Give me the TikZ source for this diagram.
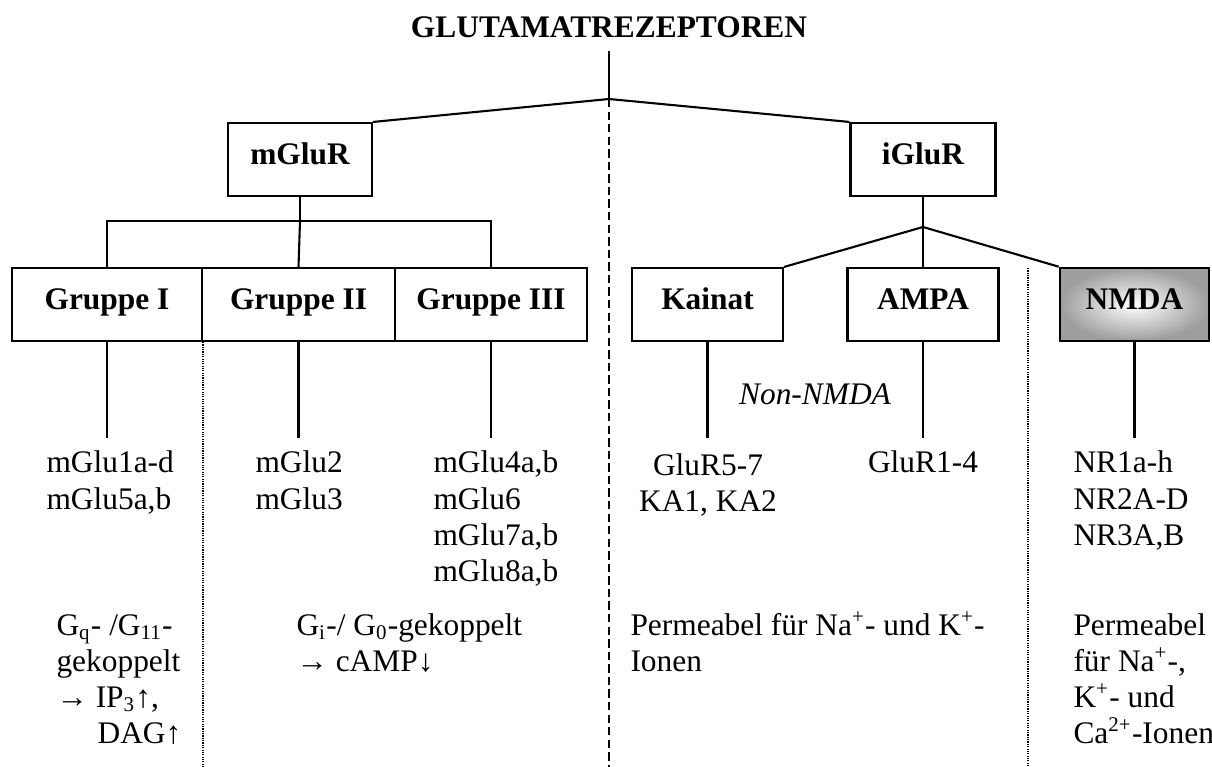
\documentclass[tikz,border=0pt]{standalone}
\usepackage{fontspec}
\setmainfont{Liberation Serif}
\def\pxu{0.3821pt}
\newcommand\rowsL[1]{\begin{tabular}[t]{@{}l@{}}#1\end{tabular}}
\newcommand\rowsC[1]{\begin{tabular}[t]{@{}c@{}}#1\end{tabular}}
\begin{document}
\begin{tikzpicture}[x=0.3821pt,y=-0.3821pt,
  every node/.style={inner sep=0pt},
  txt/.style={font=\fontsize{12pt}{13.8pt}\selectfont},
  box/.style={draw, line width=0.8pt, text height=7.8pt, text depth=3.6pt,
    minimum height=73*\pxu, font=\fontsize{12pt}{13.8pt}\selectfont\bfseries},
  shaded box/.style={box, line width=1pt, inner color=white, outer color=black!38},
  conn/.style={line width=0.8pt},
  sepdash/.style={line width=0.8pt, dash pattern=on 3.2pt off 1.6pt},
  sepdot/.style={line width=0.45pt, dash pattern=on 0.45pt off 0.45pt},
  lbl/.style={txt, anchor=base west},
]
\useasboundingbox (0,0) rectangle (1212,767);
\coordinate (bottom) at (0,767);
\coordinate (lowy) at (0,438);

% title
\node[txt, font=\fontsize{12pt}{13.8pt}\selectfont\bfseries, anchor=base] (title) at (609,38) {GLUTAMATREZEPTOREN};
\coordinate (J) at (609,99);

% level 1
\node[box, minimum width=144*\pxu] (mglur) at (300,159.5) {mGluR};
\node[box, minimum width=145*\pxu] (iglur) at (923,159.5) {iGluR};

% level 2 (mGluR)
\node[box, minimum width=190*\pxu] (g1) at (107,304.5) {Gruppe I};
\node[box, minimum width=193*\pxu] (g2) at (298.5,304.5) {Gruppe II};
\node[box, minimum width=192*\pxu] (g3) at (491,304.5) {Gruppe III};

% level 2 (iGluR)
\node[box, minimum width=151*\pxu] (kainat) at (707.5,304.5) {Kainat};
\node[box, minimum width=151*\pxu] (ampa) at (923,304.5) {AMPA};
\node[shaded box, minimum width=149*\pxu] (nmda) at (1134.5,304.5) {NMDA};

% top connectors
\draw[conn] ([yshift=-12*\pxu]title.south) -- (J);
\draw[conn] (mglur.north east) -- (J) -- (iglur.north west);
\draw[sepdash] (J) -- (J |- bottom);

% mGluR tree
\coordinate (mbar) at (300,221);
\draw[conn] (mglur.south) -- (mbar);
\draw[conn] (g1.north) |- (mbar) -| (g3.north);
\draw[conn] (mbar) -- (g2.north);

% iGluR tree
\coordinate (ij) at (923,227);
\draw[conn] (iglur.south) -- (ampa.north);
\draw[conn] (kainat.north east) -- (ij) -- (nmda.north west);

% lower stubs
\foreach \n in {g1,g2,g3,kainat,ampa,nmda}
  \draw[conn] (\n.south) -- (\n.south |- lowy);

% dotted separators
\draw[sepdot] (g1.south east) -- (g1.south east |- bottom);
\coordinate (dotR) at (1028,268);
\draw[sepdot] (dotR) -- (dotR |- bottom);

% Non-NMDA
\node[txt, font=\fontsize{12pt}{13.8pt}\selectfont\itshape, anchor=base] (nonnmda) at (815,405) {Non-NMDA};

% subtypes
\node[lbl] (t1) at (46,473) {\rowsL{mGlu1a-d\\mGlu5a,b}};
\node[lbl] (t2) at (255,473) {\rowsL{mGlu2\\mGlu3}};
\node[lbl] (t3) at (433,473) {\rowsL{mGlu4a,b\\mGlu6\\mGlu7a,b\\mGlu8a,b}};
\node[txt, anchor=base] (t4) at (708,475) {\rowsC{GluR5-7\\KA1, KA2}};
\node[txt, anchor=base] (t5) at (923,473) {GluR1-4};
\node[lbl] (t6) at (1073,473) {\rowsL{NR1a-h\\NR2A-D\\NR3A,B}};

% properties
\node[lbl] (b1) at (56,635) {\rowsL{G\textsubscript{q}- /G\textsubscript{11}-\\gekoppelt\\→ IP\textsubscript{3}↑,\\\hspace*{15.7pt}DAG↑}};
\node[lbl] (b2) at (296,635) {\rowsL{G\textsubscript{i}-/ G\textsubscript{0}-gekoppelt\\→ cAMP↓}};
\node[lbl] (b3) at (630,635) {\rowsL{Permeabel für Na\textsuperscript{+}- und K\textsuperscript{+}-\\Ionen}};
\node[lbl] (b4) at (1073,635) {\rowsL{Permeabel\\für Na\textsuperscript{+}-,\\K\textsuperscript{+}- und\\Ca\textsuperscript{2+}-Ionen}};
\end{tikzpicture}
\end{document}
